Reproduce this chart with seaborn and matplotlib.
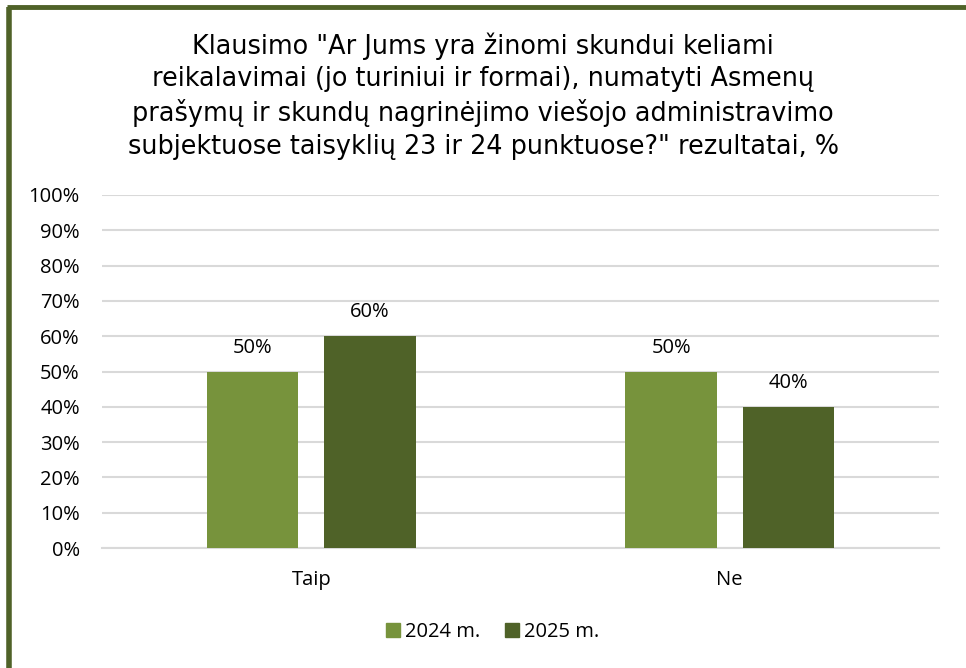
import numpy as np
import pandas as pd
import matplotlib.pyplot as plt
import seaborn as sns
from matplotlib.lines import Line2D

categories = ['Taip', 'Ne']
years = ['2024 m.', '2025 m.']
values_2024 = [50, 50]
values_2025 = [60, 40]
colors = ['#77933C', '#4F6228']

df = pd.DataFrame({
    'Atsakymas': categories * 2,
    'Metai': [years[0]] * 2 + [years[1]] * 2,
    'Procentai': values_2024 + values_2025,
})

sns.set_style('white')
plt.rcParams['font.family'] = ['Open Sans', 'DejaVu Sans']
plt.rcParams['text.color'] = 'black'
plt.rcParams['xtick.color'] = 'black'
plt.rcParams['ytick.color'] = 'black'

fig = plt.figure(figsize=(9.66, 6.68), dpi=100)
ax = fig.add_axes([102 / 966, 1 - 548 / 668, 837 / 966, 353 / 668])

sns.barplot(data=df, x='Atsakymas', y='Procentai', hue='Metai', palette=colors,
            saturation=1, width=0.56, gap=0.22, ax=ax, legend=False, zorder=3,
            edgecolor='none')

for c in ax.containers:
    ax.bar_label(c, labels=[f'{v:.0f}%' for v in c.datavalues], padding=10,
                 fontsize=14.5, color='black')

ax.set_ylim(0, 100)
ax.set_yticks(range(0, 101, 10))
ax.set_yticklabels([f'{t}%' for t in range(0, 101, 10)], fontsize=14.5)
ax.tick_params(axis='x', labelsize=14.5, length=0, pad=16)
ax.tick_params(axis='y', length=0, pad=16)
ax.yaxis.grid(True, color='#D9D9D9', lw=1.5, zorder=0)
ax.set_axisbelow(True)
for s in ['top', 'right', 'left']:
    ax.spines[s].set_visible(False)
ax.spines['bottom'].set_color('#D9D9D9')
ax.spines['bottom'].set_linewidth(1.5)
ax.set_xlabel('')
ax.set_ylabel('')

fig.text(0.5, 1 - 96 / 668,
         'Klausimo "Ar Jums yra žinomi skundui keliami\n'
         'reikalavimai (jo turiniui ir formai), numatyti Asmenų\n'
         'prašymų ir skundų nagrinėjimo viešojo administravimo\n'
         'subjektuose taisyklių 23 ir 24 punktuose?" rezultatai, %',
         ha='center', va='center', fontsize=18.4, family=['DejaVu Sans'],
         linespacing=1.33)

handles = [Line2D([], [], marker='s', ls='', color=c, markersize=10.5) for c in colors]
fig.legend(handles, years, loc='center', bbox_to_anchor=(490 / 966, 1 - 632 / 668),
           ncol=2, frameon=False, fontsize=14.5, handletextpad=0.0, columnspacing=1.0,
           handlelength=1.2)

# frame border (left and top)
fig.add_artist(Line2D([8.5 / 966, 8.5 / 966], [0, 1 - 7 / 668], color='#4F6228', lw=4,
                      transform=fig.transFigure, solid_capstyle='butt'))
fig.add_artist(Line2D([6.5 / 966, 1], [1 - 7 / 668, 1 - 7 / 668], color='#4F6228', lw=3.5,
                      transform=fig.transFigure, solid_capstyle='butt'))

fig.savefig('out.png', dpi=100)
